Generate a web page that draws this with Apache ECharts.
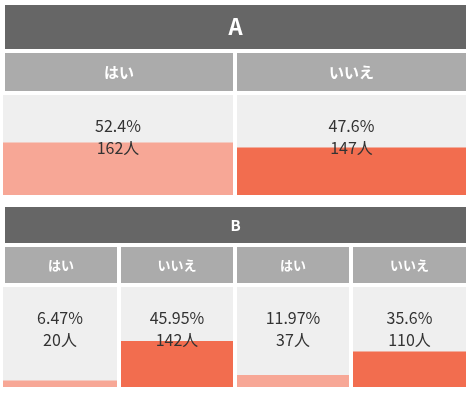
<!DOCTYPE html>
<html><head><meta charset="utf-8">
<script src="https://cdn.jsdelivr.net/npm/echarts@6/dist/echarts.min.js"></script>
<style>html,body{margin:0;padding:0;background:#fff}#c{width:471px;height:394px}</style>
</head><body><div id="c"></div>
<script>
// ---- data ----
const groupTitles = ['A', 'B'];
const catsA = ['はい', 'いいえ'];
const pctA = [52.4, 47.6];
const countA = [162, 147];
const catsB = ['はい', 'いいえ', 'はい', 'いいえ'];
const pctB = [6.47, 45.95, 11.97, 35.6];
const countB = [20, 142, 37, 110];

// ---- styles / layout ----
const FONT = '"Noto Sans CJK JP", "Noto Sans", sans-serif';
const barColor = { 'はい': '#f7a796', 'いいえ': '#f26d4f' };
const groups = [
  { title: groupTitles[0], cats: catsA, pct: pctA, cnt: countA, top: 5, titleSize: 22, subSize: 15,
    panels: [[3, 233], [237, 466]], heads: [[5, 233], [237, 466]] },
  { title: groupTitles[1], cats: catsB, pct: pctB, cnt: countB, top: 207, titleSize: 15, subSize: 13,
    panels: [[3, 117], [121, 233], [237, 349], [353, 466]], heads: [[5, 117], [121, 233], [237, 349], [353, 466]] }
];

const grids = [], xAxes = [], yAxes = [], series = [], graphics = [];
groups.forEach((g, gi) => {
  const headH = gi === 0 ? 44 : 36;
  graphics.push({ type: 'rect', shape: { x: 5, y: g.top, width: 461, height: headH }, style: { fill: '#666666' } });
  graphics.push({ type: 'text', x: 235.5, y: g.top + headH / 2, style: { text: g.title, fill: '#fff', font: 'bold ' + g.titleSize + 'px ' + FONT, align: 'center', verticalAlign: 'middle' } });
  const subTop = g.top + headH + 4;
  const subH = gi === 0 ? 38 : 36;
  const panelTop = subTop + subH + 4;
  g.cats.forEach((c, i) => {
    const [hx0, hx1] = g.heads[i];
    graphics.push({ type: 'rect', shape: { x: hx0, y: subTop, width: hx1 - hx0, height: subH }, style: { fill: '#ababab' } });
    graphics.push({ type: 'text', x: (hx0 + hx1) / 2, y: subTop + subH / 2, style: { text: c, fill: '#fff', font: 'bold ' + g.subSize + 'px ' + FONT, align: 'center', verticalAlign: 'middle' } });
    const [px0, px1] = g.panels[i];
    const idx = grids.length;
    grids.push({ left: px0, top: panelTop, width: px1 - px0, height: 100 });
    xAxes.push({ type: 'category', gridIndex: idx, data: [c], show: false });
    yAxes.push({ type: 'value', gridIndex: idx, min: 0, max: 100, show: false });
    series.push({
      type: 'bar', xAxisIndex: idx, yAxisIndex: idx, barWidth: '100%',
      data: [g.pct[i]], itemStyle: { color: barColor[c] },
      showBackground: true, backgroundStyle: { color: '#efefef' }, silent: true
    });
    series.push({
      type: 'bar', xAxisIndex: idx, yAxisIndex: idx, barWidth: '100%', barGap: '-100%', z: 5,
      data: [100], itemStyle: { color: 'rgba(0,0,0,0)' }, silent: true,
      label: {
        show: true, position: 'inside', offset: [0, -8],
        formatter: () => g.pct[i] + '%\n' + g.cnt[i] + '人',
        color: '#333', fontSize: 16, lineHeight: 22, fontFamily: FONT
      }
    });
  });
});

const chart = echarts.init(document.getElementById('c'));
chart.setOption({
  animation: false,
  grid: grids, xAxis: xAxes, yAxis: yAxes, series: series, graphic: graphics
});
</script></body></html>
